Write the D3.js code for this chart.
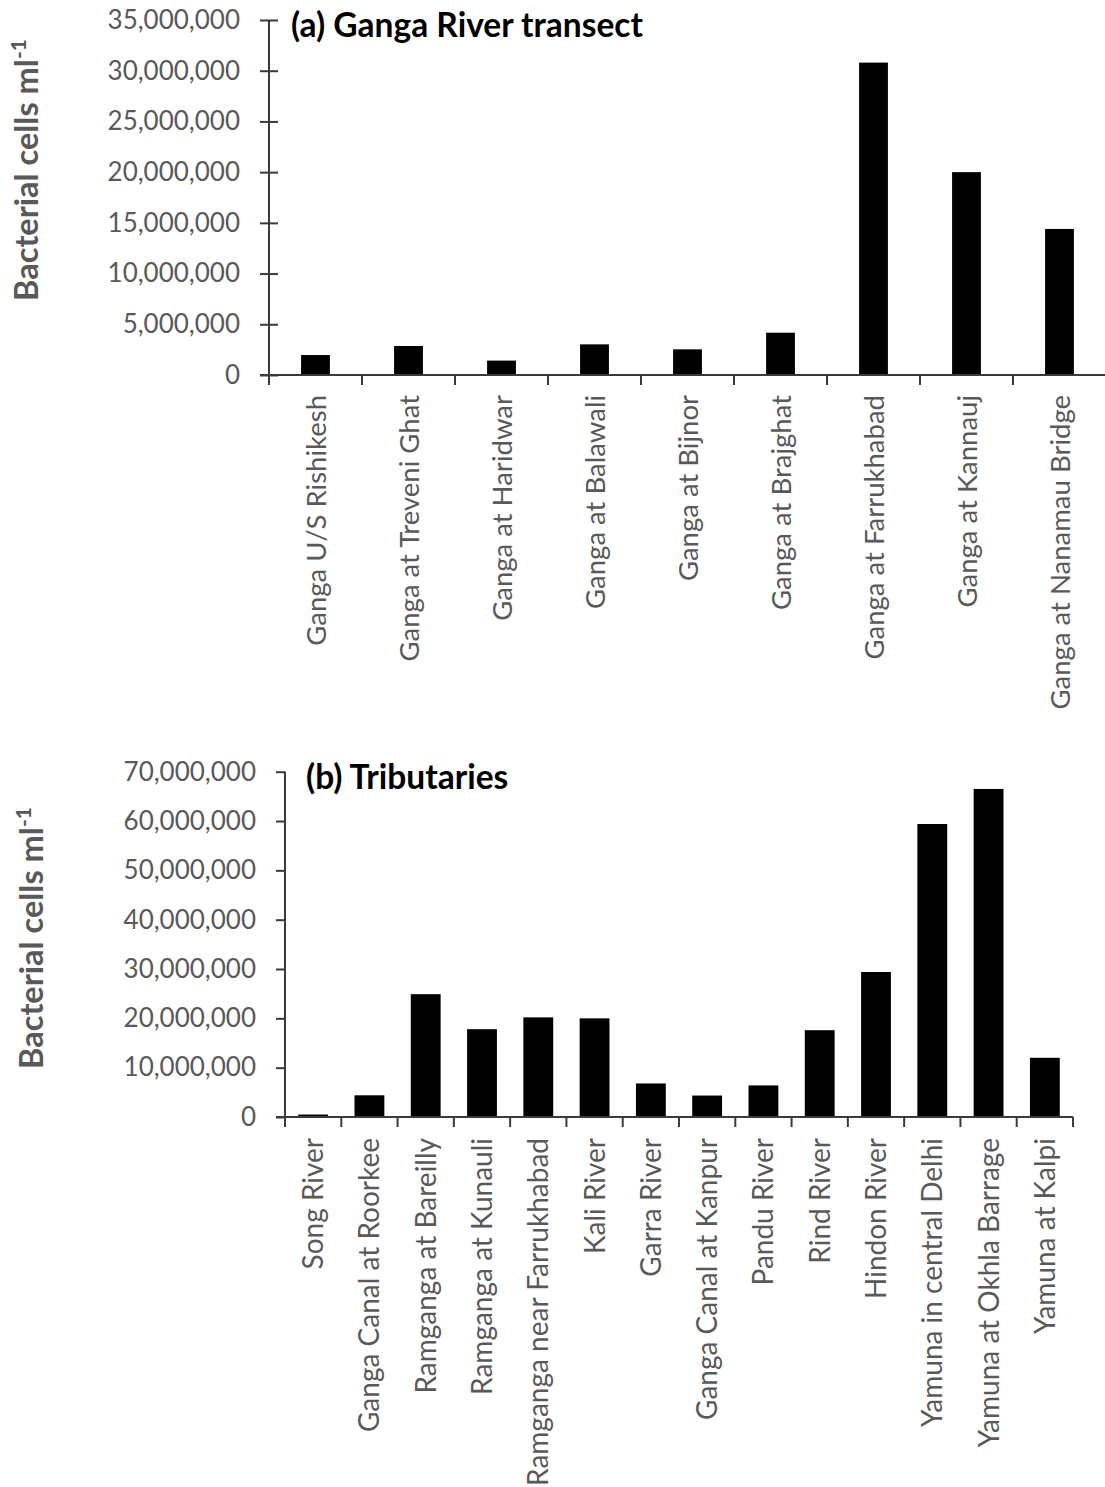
<!DOCTYPE html>
<html>
<head>
<meta charset="utf-8">
<script src="https://cdn.jsdelivr.net/npm/d3@7"></script>
<style>
  html, body { margin: 0; padding: 0; background: #fff; }
  svg { display: block; }
  text { font-family: Lato, "Open Sans", sans-serif; }
</style>
</head>
<body>
<svg id="chart" width="1105" height="1487"></svg>
<script>
// Bacterial cell counts along the Ganga main stem
const gangaSites = [
  "Ganga U/S Rishikesh", "Ganga at Treveni Ghat", "Ganga at Haridwar",
  "Ganga at Balawali", "Ganga at Bijnor", "Ganga at Brajghat",
  "Ganga at Farrukhabad", "Ganga at Kannauj", "Ganga at Nanamau Bridge"
];
const gangaCells = [1970000, 2860000, 1420000, 3020000, 2530000, 4170000, 30800000, 20000000, 14400000];
const gangaTicks = [0, 5000000, 10000000, 15000000, 20000000, 25000000, 30000000, 35000000];

// Bacterial cell counts in the tributaries and canals
const tribSites = [
  "Song River", "Ganga Canal at Roorkee", "Ramganga at Bareilly", "Ramganga at Kunauli",
  "Ramganga near Farrukhabad", "Kali River", "Garra River", "Ganga Canal at Kanpur",
  "Pandu River", "Rind River", "Hindon River", "Yamuna in central Delhi",
  "Yamuna at Okhla Barrage", "Yamuna at Kalpi"
];
const tribCells = [500000, 4400000, 24900000, 17800000, 20200000, 20000000, 6800000, 4350000,
  6400000, 17600000, 29400000, 59400000, 66500000, 12000000];
const tribTicks = [0, 10000000, 20000000, 30000000, 40000000, 50000000, 60000000, 70000000];

const svg = d3.select("#chart");
const fmt = d3.format(",");
const AXIS = "#3a3a3a";
const LABEL = "#595959";

function panel(cfg) {
  const g = svg.append("g");
  const x = d3.scaleBand().domain(cfg.sites).range([cfg.x0, cfg.x1])
    .paddingInner(cfg.pad).paddingOuter(cfg.pad / 2);
  const y = d3.scaleLinear().domain([0, cfg.max]).range([cfg.y0, cfg.y1]);

  // bars
  g.selectAll("rect.bar").data(cfg.sites).join("rect")
    .attr("class", "bar")
    .attr("x", d => x(d))
    .attr("width", x.bandwidth())
    .attr("y", (d, i) => y(cfg.values[i]))
    .attr("height", (d, i) => y(0) - y(cfg.values[i]))
    .attr("fill", "#000");

  // y axis with value ticks
  const yAxis = d3.axisLeft(y).tickValues(cfg.ticks).tickFormat(fmt)
    .tickSizeInner(cfg.tickIn).tickSizeOuter(0).tickPadding(cfg.tickPad);
  const ya = g.append("g").attr("transform", `translate(${cfg.x0},0)`).call(yAxis);
  ya.select(".domain").remove();
  ya.selectAll(".tick line").attr("stroke", AXIS).attr("stroke-width", 2)
    .attr("x2", -cfg.tickIn).attr("x1", cfg.tickCross);
  ya.selectAll(".tick text").attr("fill", LABEL).style("font-size", cfg.tickFont + "px")
    .attr("x", -cfg.tickIn - cfg.tickPad + (cfg.tickIn - 9));
  g.append("line").attr("x1", cfg.x0).attr("x2", cfg.x0)
    .attr("y1", y(cfg.max)).attr("y2", y(0) + 10)
    .attr("stroke", AXIS).attr("stroke-width", 2);

  // x axis line and category dividers
  g.append("line").attr("x1", cfg.x0 - cfg.tickIn).attr("x2", cfg.x1)
    .attr("y1", y(0)).attr("y2", y(0)).attr("stroke", AXIS).attr("stroke-width", 2);
  const step = x.step();
  const bounds = cfg.sites.map(d => x(d) - (step - x.bandwidth()) / 2 + step);
  g.selectAll("line.div").data(bounds).join("line").attr("class", "div")
    .attr("x1", d => d).attr("x2", d => d)
    .attr("y1", y(0)).attr("y2", y(0) + 10)
    .attr("stroke", AXIS).attr("stroke-width", 2);

  // category labels
  g.selectAll("text.cat").data(cfg.sites).join("text").attr("class", "cat")
    .attr("transform", d => `translate(${x(d) + x.bandwidth() / 2 + cfg.labelDx},${y(0) + cfg.labelGap}) rotate(-90)`)
    .attr("text-anchor", "end")
    .attr("fill", LABEL)
    .style("font-size", cfg.catFont + "px")
    .text(d => d);

  // panel title
  g.append("text").attr("x", cfg.titleX).attr("y", cfg.titleY)
    .style("font-size", "33.5px").style("font-weight", "bold").attr("fill", "#000")
    .text(cfg.title);

  // y axis title
  const yt = g.append("text")
    .attr("transform", `translate(${cfg.yTitleX},${cfg.yTitleY}) rotate(-90)`)
    .attr("text-anchor", "middle").attr("fill", LABEL)
    .style("font-size", "32.5px").style("font-weight", "bold");
  yt.append("tspan").text("Bacterial cells ml");
  yt.append("tspan").attr("dy", -12).style("font-size", "21px").text("-1");
}

panel({
  sites: gangaSites, values: gangaCells, ticks: gangaTicks, max: 35000000,
  x0: 269, x1: 1106, y0: 375, y1: 20, pad: 0.69,
  tickIn: 9, tickCross: 9, tickPad: 20, tickFont: 26, catFont: 27.5,
  labelDx: 10, labelGap: 20,
  title: "(a) Ganga River transect", titleX: 291, titleY: 37,
  yTitleX: 38, yTitleY: 170
});

panel({
  sites: tribSites, values: tribCells, ticks: tribTicks, max: 70000000,
  x0: 285, x1: 1073, y0: 1117, y1: 771.7, pad: 0.47,
  tickIn: 9, tickCross: 0, tickPad: 20, tickFont: 26, catFont: 28,
  labelDx: 10, labelGap: 21,
  title: "(b) Tributaries", titleX: 306, titleY: 789,
  yTitleX: 43, yTitleY: 938
});
</script>
</body>
</html>
